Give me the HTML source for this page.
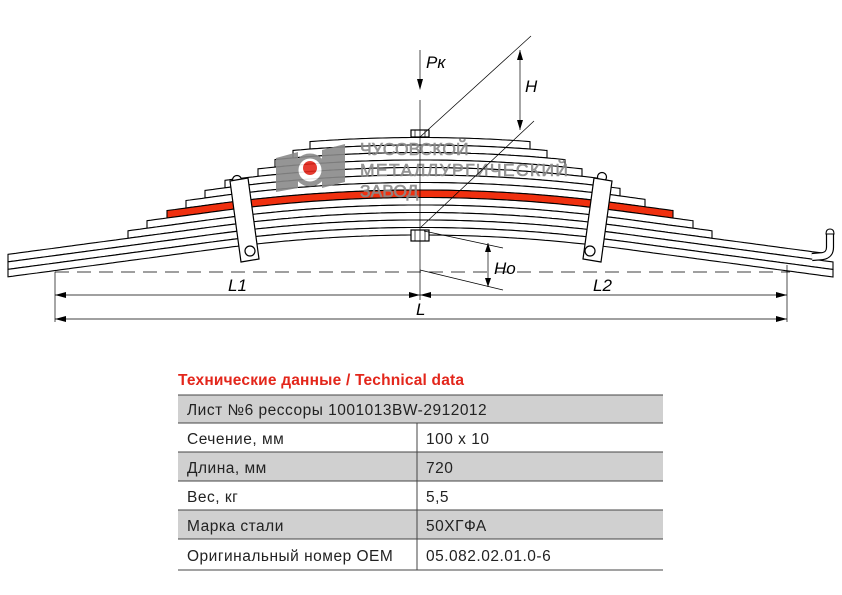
<!DOCTYPE html>
<html><head><meta charset="utf-8"><style>
body{margin:0;background:#fff;width:842px;height:595px;overflow:hidden;font-family:"Liberation Sans",sans-serif}
svg{position:absolute;left:0;top:0}
</style></head><body>
<svg id="s" width="842" height="595" viewBox="0 0 842 595" xmlns="http://www.w3.org/2000/svg">
<g id="leaves"></g>
<!-- logo watermark -->
<g fill="#8a8a8a" opacity="0.9">
<polygon points="276,158 298,152 298,188 276,192"/>
<polygon points="322,150 345,144 345,182 322,188"/>
<circle cx="310" cy="170" r="14" fill="#fff" stroke="#8a8a8a" stroke-width="5"/>
<circle cx="310" cy="168" r="7" fill="#e3261b"/>
<text x="360" y="155" font-size="17.5" fill="#8a8a8a" stroke="#8a8a8a" stroke-width="0.6">ЧУСОВСКОЙ</text>
<text x="360" y="176" font-size="17.5" fill="#8a8a8a" stroke="#8a8a8a" stroke-width="0.6" textLength="208">МЕТАЛЛУРГИЧЕСКИЙ</text>
<text x="360" y="197" font-size="17.5" fill="#8a8a8a" stroke="#8a8a8a" stroke-width="0.6">ЗАВОД</text>
</g>
<!-- clamps -->
<g stroke="#000" stroke-width="1.2" fill="#fff">
<circle cx="237" cy="180" r="4.5"/>
<polygon points="230,181 248,178 259,259 241,262"/>
<circle cx="250" cy="251" r="5"/>
<circle cx="602" cy="177" r="4.5"/>
<polygon points="594,178 612,181 601,262 583,259"/>
<circle cx="590" cy="251" r="5"/>
<rect x="411" y="130" width="18" height="7"/>
<rect x="411" y="230" width="18" height="11"/>
</g>
<g stroke="#000" stroke-width="0.7" fill="none">
<line x1="420" y1="100" x2="420" y2="300"/>
<line x1="415" y1="130" x2="415" y2="137"/><line x1="425" y1="130" x2="425" y2="137"/>
<line x1="415" y1="230" x2="415" y2="241"/><line x1="425" y1="230" x2="425" y2="241"/>
<line x1="420" y1="137" x2="531" y2="36"/>
<line x1="420" y1="228" x2="534" y2="121"/>
<line x1="424" y1="231" x2="503" y2="248"/>
<line x1="420" y1="270" x2="503" y2="290"/>
<line x1="520" y1="50" x2="520" y2="130"/>
<line x1="488" y1="243" x2="488" y2="287"/>
<line x1="420" y1="50" x2="420" y2="88"/>
<line x1="55" y1="272" x2="790" y2="272" stroke-dasharray="14,8"/>
<line x1="55" y1="272" x2="55" y2="322"/>
<line x1="787" y1="265" x2="787" y2="322"/>
<line x1="55" y1="295" x2="787" y2="295"/>
<line x1="55" y1="319" x2="787" y2="319"/>
</g>
<g fill="#000">
<polygon points="520,50 517,60 523,60"/><polygon points="520,130 517,120 523,120"/>
<polygon points="488,243 485,252 491,252"/><polygon points="488,287 485,278 491,278"/>
<polygon points="420,90 417,79 423,79"/>
<polygon points="55,295 66,292 66,298"/><polygon points="420,295 409,292 409,298"/>
<polygon points="420,295 431,292 431,298"/><polygon points="787,295 776,292 776,298"/>
<polygon points="55,319 66,316 66,322"/><polygon points="787,319 776,316 776,322"/>
</g>
<g font-style="italic" font-size="17" fill="#000">
<text x="426" y="68">Pк</text>
<text x="525" y="92">H</text>
<text x="494" y="274">Ho</text>
<text x="228" y="291">L1</text>
<text x="593" y="291">L2</text>
<text x="416" y="315">L</text>
</g>
<!-- table -->
<text x="178" y="385" font-size="15.5" font-weight="bold" fill="#e3261b" textLength="286">Технические данные / Technical data</text>
<g fill="#d0d0d0">
<rect x="178" y="395" width="485" height="28"/>
<rect x="178" y="452" width="485" height="29"/>
<rect x="178" y="510" width="485" height="29"/>
</g>
<g stroke="#444" stroke-width="1">
<line x1="178" y1="395" x2="663" y2="395"/><line x1="178" y1="423" x2="663" y2="423"/>
<line x1="178" y1="452" x2="663" y2="452"/><line x1="178" y1="481" x2="663" y2="481"/>
<line x1="178" y1="510" x2="663" y2="510"/><line x1="178" y1="539" x2="663" y2="539"/>
<line x1="178" y1="570" x2="663" y2="570"/><line x1="417" y1="423" x2="417" y2="570"/>
</g>
<g font-size="15.5" fill="#222" letter-spacing="0.5">
<text x="187" y="415">Лист №6 рессоры 1001013BW-2912012</text>
<text x="187" y="444">Сечение, мм</text><text x="426" y="444">100 x 10</text>
<text x="187" y="473">Длина, мм</text><text x="426" y="473">720</text>
<text x="187" y="502">Вес, кг</text><text x="426" y="502">5,5</text>
<text x="187" y="531">Марка стали</text><text x="426" y="531">50ХГФА</text>
<text x="187" y="561">Оригинальный номер OEM</text><text x="426" y="561">05.082.02.01.0-6</text>
</g>
</svg>
<script>
(function(){
function B(x){var d=Math.abs(x-420);if(d<=200)return 235+0.000336*d*d;return 235+13.44+0.134*(d-200);}
var T=7.5,N=13;
var L=[310,293,275,258,225,205,186,167,147,128,8,8,8];
var R=[530,547,565,582,600,620,645,673,693,712,822,833,833];
var g=document.getElementById('leaves'),h='';
for(var i=0;i<N;i++){
 var off=(N-1-i)*T,pts=[],x;
 for(x=L[i];x<R[i];x+=4)pts.push([x,B(x)-off-T]);
 pts.push([R[i],B(R[i])-off-T]);
 var bot=[];
 for(x=R[i];x>L[i];x-=4)bot.push([x,B(x)-off]);
 bot.push([L[i],B(L[i])-off]);
 var all=pts.concat(bot);
 var d='M'+all.map(function(p){return p[0].toFixed(1)+','+p[1].toFixed(1)}).join(' L')+' Z';
 h+='<path d="'+d+'" fill="'+(i==7?'#f0300f':'#fff')+'" stroke="#000" stroke-width="1.1"/>';
}
var ym=B(818)-2*T-T/2;
var hp='M812,'+(ym+0.8).toFixed(1)+' L822,'+ym.toFixed(1)+' Q830,'+(ym-1).toFixed(1)+' 830,'+(ym-9).toFixed(1)+' L830,234';
h+='<path d="'+hp+'" fill="none" stroke="#000" stroke-width="8.2" stroke-linecap="butt"/>';
h+='<path d="'+hp+'" fill="none" stroke="#fff" stroke-width="5.8"/>';
h+='<path d="M826,234 Q826,229 830,229 Q834,229 834,234 Z" fill="#fff" stroke="#000" stroke-width="1.1"/>';
g.innerHTML=h;
})();
</script>
</body></html>
